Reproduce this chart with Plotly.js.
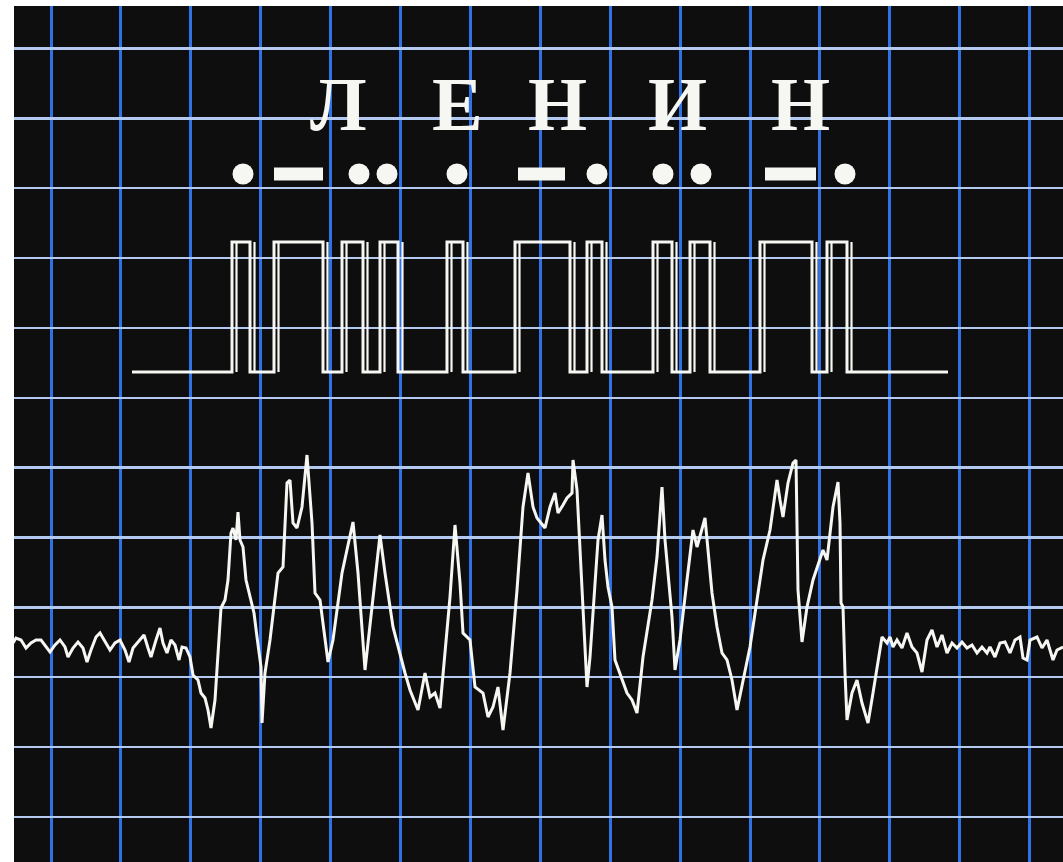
<!DOCTYPE html>
<html>
<head>
<meta charset="utf-8">
<script src="https://cdn.plot.ly/plotly-3.0.1.min.js"></script>
<style>
html,body{margin:0;padding:0;background:#ffffff;}
#chart{width:1063px;height:862px;}
</style>
</head>
<body>
<div id="chart"></div>
<script>
// Letters of the word and their horizontal positions
const letters = ["Л", "Е", "Н", "И", "Н"];
const letterX = [338, 457, 557, 677, 800];
const letterY = 104;

// Morse symbols drawn above the pulse train
const dotX = [243, 359, 387, 457, 597, 663, 701, 845];
const dashStart = [274, 518, 765];
const dashEnd = [323, 565, 816];
const morseY = 174;

// Keyed square wave: rising / falling edges
const pulseRise = [232, 274, 342, 380, 447, 515, 587, 653, 690, 760, 827];
const pulseFall = [250, 323, 363, 398, 463, 570, 602, 672, 710, 812, 847];
const squareStart = 132;
const squareEnd = 948;
const levelLow = 372;
const levelHigh = 242;

// Received (noisy) signal trace
const sigT = [13,16,21,26,31,36,41,46,50,55,60,65,68,73,78,83,87,91,96,100,105,110,115,120,125,129,133,138,144,148,151,156,160,163,167,171,175,179,182,186,190,193,198,201,205,208,211,215,218,221,225,228,231,233,236,238,240,243,246,250,254,257,261,262,265,270,275,278,283,
287,290,293,297,302,307,312,315,320,328,333,342,353,358,365,372,380,385,393,405,410,418,425,430,435,440,443,450,455,460,463,470,475,483,488,493,498,503,510,517,523,528,533,
537,545,550,555,558,563,567,572,573,577,580,583,587,590,595,598,602,605,608,612,615,620,627,632,637,643,652,657,662,665,668,672,675,680,687,693,697,700,705,708,712,717,722,727,732,737,743,750,757,763,770,777,780,783,788,793,796,
797,798,802,807,813,820,823,827,830,833,838,840,841,843,845,847,852,857,862,868,873,877,882,887,890,893,897,902,907,912,917,922,927,932,937,942,947,952,957,962,967,972,977,982,987,990,995,1000,1005,1010,1015,1020,1023,1027,1030,1037,1042,1047,1053,1057,1063];
const sigV = [643,638,640,648,643,640,640,647,652,645,640,647,657,648,642,648,662,650,637,633,642,650,643,640,650,662,648,642,635,648,657,640,628,643,653,640,645,660,647,648,657,675,680,693,698,710,728,700,653,608,600,580,533,528,540,512,540,547,580,598,613,637,667,723,673,640,600,573,567,
483,480,523,528,507,455,523,593,600,662,640,573,522,573,670,607,535,573,627,673,690,710,673,697,693,708,673,597,525,583,633,640,687,693,717,707,687,730,673,590,507,473,507,
518,528,507,493,513,505,498,493,460,490,550,607,687,657,590,540,515,560,587,607,660,673,693,700,713,657,600,557,487,540,573,617,670,640,580,530,547,537,518,550,593,627,653,660,680,710,680,647,600,560,530,480,500,517,483,463,460,
540,590,642,607,580,560,550,560,533,507,482,523,603,607,673,720,693,680,703,723,693,667,637,643,637,647,640,648,633,647,653,672,640,630,647,635,653,643,648,642,648,645,653,647,653,647,657,643,642,653,640,637,658,660,640,637,648,640,660,650,647];

// ---- build traces from the data ----
const sqX = [squareStart], sqY = [levelLow];
for (let i = 0; i < pulseRise.length; i++) {
  sqX.push(pulseRise[i], pulseRise[i], pulseFall[i], pulseFall[i]);
  sqY.push(levelLow, levelHigh, levelHigh, levelLow);
}
sqX.push(squareEnd); sqY.push(levelLow);

// second (doubled) wall of each edge, as on the original trace
const wallOffset = 4.5;
const wallX = [], wallY = [];
pulseRise.concat(pulseFall).forEach(function (e) {
  wallX.push(e + wallOffset, e + wallOffset, null);
  wallY.push(levelLow, levelHigh, null);
});

const dashX = [], dashY = [];
for (let i = 0; i < dashStart.length; i++) {
  dashX.push(dashStart[i], dashEnd[i], null);
  dashY.push(morseY, morseY, null);
}

const white = '#f6f6f2';
const traces = [
  {x: sigT, y: sigV, type: 'scatter', mode: 'lines', line: {color: white, width: 3}, hoverinfo: 'skip'},
  {x: sqX, y: sqY, type: 'scatter', mode: 'lines', line: {color: white, width: 3}, hoverinfo: 'skip'},
  {x: wallX, y: wallY, type: 'scatter', mode: 'lines', line: {color: white, width: 2.2}, connectgaps: false, hoverinfo: 'skip'},
  {x: dotX, y: dotX.map(function () { return morseY; }), type: 'scatter', mode: 'markers',
   marker: {symbol: 'circle', size: 21, color: white, line: {width: 0}}, hoverinfo: 'skip'},
  {x: dashX, y: dashY, type: 'scatter', mode: 'lines', line: {color: white, width: 13}, connectgaps: false, hoverinfo: 'skip'}
];

const annotations = letters.map(function (t, i) {
  return {
    text: t, x: letterX[i], y: letterY, xref: 'x', yref: 'y',
    xanchor: 'center', yanchor: 'middle', showarrow: false,
    font: {family: 'Liberation Serif, DejaVu Serif, serif', size: 76, color: white, weight: 'bold'}
  };
});

const layout = {
  width: 1063, height: 862,
  margin: {l: 14, r: 0, t: 6, b: 0, pad: 0},
  paper_bgcolor: '#ffffff',
  plot_bgcolor: '#0e0e0e',
  showlegend: false,
  xaxis: {
    range: [14, 1063], tick0: 51, dtick: 69.9,
    showgrid: true, gridcolor: '#2f72e6', gridwidth: 3,
    zeroline: false, showline: false, ticks: '', showticklabels: false, fixedrange: true
  },
  yaxis: {
    range: [862, 6], tick0: 48.5, dtick: 69.85,
    showgrid: true, gridcolor: '#b4c9f0', gridwidth: 2.5,
    zeroline: false, showline: false, ticks: '', showticklabels: false, fixedrange: true
  },
  annotations: annotations
};

Plotly.newPlot('chart', traces, layout, {displayModeBar: false, staticPlot: true});
</script>
</body>
</html>
